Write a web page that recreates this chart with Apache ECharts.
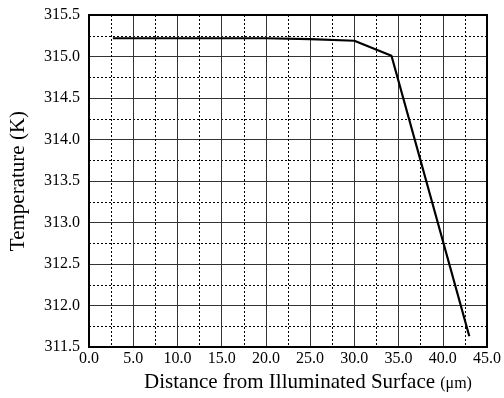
<!DOCTYPE html>
<html><head><meta charset="utf-8">
<script src="https://cdn.jsdelivr.net/npm/echarts@6/dist/echarts.min.js"></script>
<style>html,body{margin:0;padding:0;background:#fff}#c{width:504px;height:398px}</style>
</head><body><div id="c"></div>
<script>
const xValues = [2.7, 10, 20, 25, 30, 34.2, 43.0];
const temps = [315.22, 315.22, 315.22, 315.21, 315.19, 315.01, 311.63];
const xTitle = 'Distance from Illuminated Surface ';
const yTitle = 'Temperature (K)';
const font = '"Liberation Serif", "Times New Roman", serif';

const chart = echarts.init(document.getElementById('c'));
const gridBase = {left: 88, right: 14, top: 15, bottom: 49};
chart.setOption({
  animation: false,
  grid: [Object.assign({show: true, borderColor: '#000', borderWidth: 2, backgroundColor: 'transparent', z: 5}, gridBase)],
  xAxis: [
    {type: 'value', min: 0, max: 45, interval: 2.5, gridIndex: 0,
     axisLine: {show: false}, axisTick: {show: false},
     axisLabel: {fontFamily: font, fontSize: 16, color: '#000', margin: 4,
       formatter: v => (Math.abs(v % 5) < 1e-9 ? v.toFixed(1) : '')},
     splitLine: {show: true, lineStyle: {color: '#000', type: [2, 2], width: 1}},
     name: xTitle + '{u|(μm)}', nameLocation: 'middle', nameGap: 18,
     nameTextStyle: {fontFamily: font, fontSize: 21, color: '#000', padding: [0, 0, 0, 40],
       rich: {u: {fontFamily: font, fontSize: 16, color: '#000', padding: [3, 0, 0, 0]}}}},
    {type: 'value', min: 0, max: 45, interval: 5, gridIndex: 0, position: 'bottom',
     axisLine: {show: false}, axisTick: {show: false}, axisLabel: {show: false},
     splitLine: {show: true, lineStyle: {color: '#333', width: 1}}}
  ],
  yAxis: [
    {type: 'value', min: 311.5, max: 315.5, interval: 0.25, gridIndex: 0,
     axisLine: {show: false}, axisTick: {show: false},
     axisLabel: {fontFamily: font, fontSize: 16, color: '#000', margin: 9,
       formatter: v => (Math.abs((v * 2) % 1) < 1e-9 ? v.toFixed(1) : '')},
     splitLine: {show: true, lineStyle: {color: '#000', type: [2, 2], width: 1}},
     name: yTitle, nameLocation: 'middle', nameGap: 60, nameRotate: 90,
     nameTextStyle: {fontFamily: font, fontSize: 21, color: '#000'}},
    {type: 'value', min: 311.5, max: 315.5, interval: 0.5, gridIndex: 0, position: 'left',
     axisLine: {show: false}, axisTick: {show: false}, axisLabel: {show: false},
     splitLine: {show: true, lineStyle: {color: '#333', width: 1}}}
  ],
  series: [{
    type: 'line', xAxisIndex: 0, yAxisIndex: 0,
    data: xValues.map((x, i) => [x, temps[i]]),
    showSymbol: false, lineStyle: {color: '#000', width: 2.2}, z: 10
  }]
});
</script></body></html>
